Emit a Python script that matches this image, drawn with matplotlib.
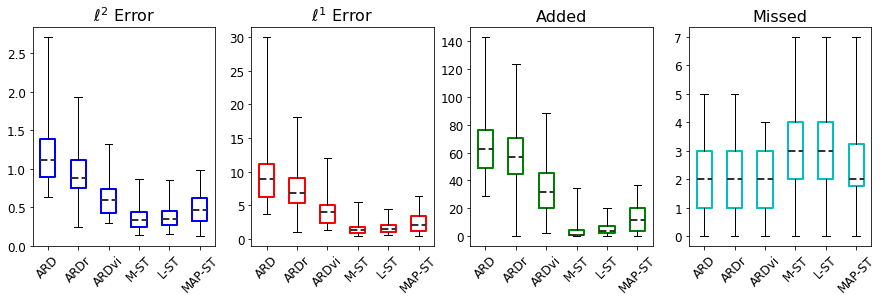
import matplotlib
matplotlib.use('Agg')
import matplotlib.pyplot as plt

methods = ['ARD', 'ARDr', 'ARDvi', 'M-ST', 'L-ST', 'MAP-ST']
titles = [r'$\ell^2$ Error', r'$\ell^1$ Error', 'Added', 'Missed']
box_colors = ['b', 'r', 'g', 'c']

# five-number summaries per panel: (whislo, q1, med, q3, whishi) for each method
l2_lo = [0.63, 0.235, 0.29, 0.135, 0.148, 0.122]
l2_q1 = [0.897, 0.753, 0.418, 0.244, 0.27, 0.314]
l2_med = [1.106, 0.884, 0.597, 0.327, 0.348, 0.466]
l2_q3 = [1.38, 1.106, 0.74, 0.431, 0.453, 0.623]
l2_hi = [2.71, 1.93, 1.32, 0.867, 0.854, 0.984]

l1_lo = [3.73, 1.04, 1.39, 0.45, 0.6, 0.45]
l1_q1 = [6.32, 5.32, 2.34, 0.95, 1.14, 1.29]
l1_med = [8.86, 6.82, 3.98, 1.34, 1.54, 2.14]
l1_q3 = [11.14, 9.15, 5.12, 1.84, 2.09, 3.48]
l1_hi = [30.0, 18.2, 12.09, 5.52, 4.43, 6.37]

add_lo = [29, 0, 2, 0, 0, 0]
add_q1 = [48.7, 44.8, 20.5, 0.5, 2.4, 3.6]
add_med = [62.4, 56.9, 32.0, 1.0, 4.0, 11.8]
add_q3 = [76.1, 70.4, 45.1, 4.6, 7.5, 20.5]
add_hi = [143, 123.4, 88.7, 34.7, 20, 36.9]

miss_lo = [0, 0, 0, 0, 0, 0]
miss_q1 = [1, 1, 1, 2, 2, 1.75]
miss_med = [2, 2, 2, 3, 3, 2]
miss_q3 = [3, 3, 3, 4, 4, 3.25]
miss_hi = [5, 5, 4, 7, 7, 7]

panels = [
    (l2_lo, l2_q1, l2_med, l2_q3, l2_hi),
    (l1_lo, l1_q1, l1_med, l1_q3, l1_hi),
    (add_lo, add_q1, add_med, add_q3, add_hi),
    (miss_lo, miss_q1, miss_med, miss_q3, miss_hi),
]

fig, axes = plt.subplots(1, 4, figsize=(12.25, 4.18), dpi=72)
fig.subplots_adjust(left=0.037, right=0.988, top=0.907, bottom=0.179, wspace=0.2)

for ax, title, color, (lo, q1, med, q3, hi) in zip(axes, titles, box_colors, panels):
    stats = []
    for i, name in enumerate(methods):
        stats.append({'label': name, 'whislo': lo[i], 'q1': q1[i], 'med': med[i],
                      'q3': q3[i], 'whishi': hi[i], 'fliers': []})
    ax.bxp(stats, showfliers=False,
           boxprops=dict(color=color, linewidth=2),
           medianprops=dict(color='#333333', linewidth=2, linestyle='--'),
           whiskerprops=dict(color='black', linewidth=1),
           capprops=dict(color='black', linewidth=1))
    ax.set_title(title, fontsize=16)
    ax.tick_params(axis='both', labelsize=12)
    ax.tick_params(axis='x', labelrotation=45)

fig.savefig('out.png', dpi=72)
